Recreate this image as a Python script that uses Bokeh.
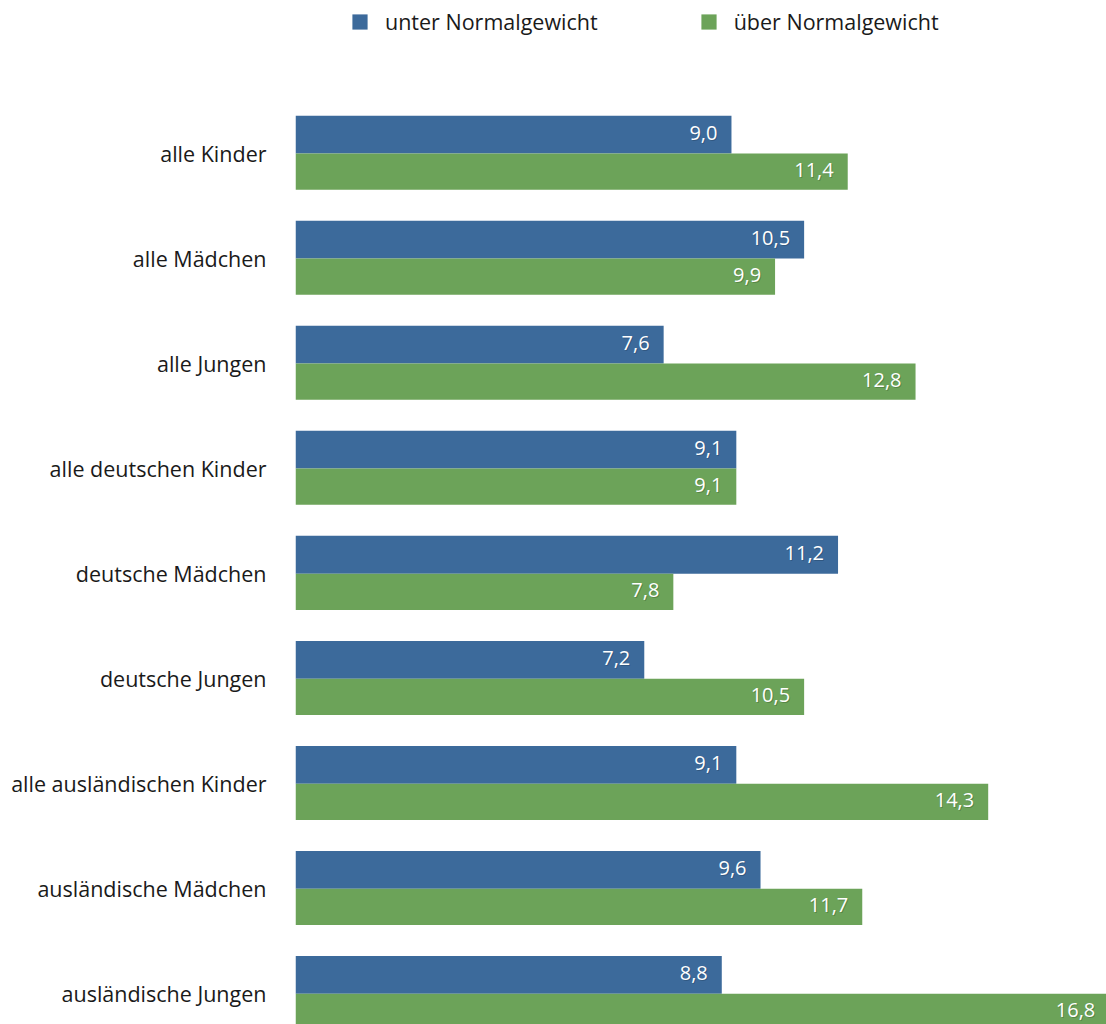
from bokeh.plotting import figure
from bokeh.models import ColumnDataSource, Range1d, FixedTicker, Legend, LegendItem
from bokeh.embed import file_html
from bokeh.resources import INLINE
from bokeh.core.properties import value

categories = ["alle Kinder", "alle Mädchen", "alle Jungen", "alle deutschen Kinder",
              "deutsche Mädchen", "deutsche Jungen", "alle ausländischen Kinder",
              "ausländische Mädchen", "ausländische Jungen"]
unter = [9.0, 10.5, 7.6, 9.1, 11.2, 7.2, 9.1, 9.6, 8.8]
ueber = [11.4, 9.9, 12.8, 9.1, 7.8, 10.5, 14.3, 11.7, 16.8]
series_names = ["unter Normalgewicht", "über Normalgewicht"]

BLUE = "#3c6a9b"
GREEN = "#6ca359"
FONT = "Open Sans"

idx = list(range(len(categories)))
src = ColumnDataSource(dict(
    y_blue=[i - 0.18 for i in idx],
    y_green=[i + 0.1725 for i in idx],
    unter=unter,
    ueber=ueber,
    unter_lbl=[f"{v:.1f}".replace(".", ",") for v in unter],
    ueber_lbl=[f"{v:.1f}".replace(".", ",") for v in ueber],
))

p = figure(width=1106, height=1024, output_backend="svg", toolbar_location=None,
           x_range=Range1d(0, 16.742), y_range=Range1d(8.292, -1.4566),
           min_border_left=295, min_border_right=0, min_border_top=0, min_border_bottom=0)
p.outline_line_color = None
p.xgrid.visible = False
p.ygrid.visible = False
p.xaxis.visible = False

r1 = p.hbar(y="y_blue", left=0, right="unter", height=0.36, source=src,
            fill_color=BLUE, line_color=None)
r2 = p.hbar(y="y_green", left=0, right="ueber", height=0.345, source=src,
            fill_color=GREEN, line_color=None)

for col, ycol, shadow in (("unter", "y_blue", "#1d3652"), ("ueber", "y_green", "#2f4f25")):
    p.text(x=col, y=ycol, text=col + "_lbl", source=src, x_offset=-13, y_offset=-1,
           text_align="right", text_baseline="middle", text_color=shadow, text_alpha=0.35,
           text_font=value(FONT), text_font_size="20px")
    p.text(x=col, y=ycol, text=col + "_lbl", source=src, x_offset=-14, y_offset=-2,
           text_align="right", text_baseline="middle", text_color="white",
           text_font=value(FONT), text_font_size="20px")

yax = p.yaxis[0]
yax.ticker = FixedTicker(ticks=idx)
yax.major_label_overrides = {i: c for i, c in zip(idx, categories)}
yax.axis_line_color = None
yax.major_tick_line_color = None
yax.minor_tick_line_color = None
yax.major_tick_out = 0
yax.major_tick_in = 0
yax.major_label_standoff = 29
yax.major_label_text_font = FONT
yax.major_label_text_font_size = "21.5px"
yax.major_label_text_color = "#1a1a1a"

legend = Legend(items=[LegendItem(label=series_names[0], renderers=[r1]),
                       LegendItem(label=series_names[1], renderers=[r2])],
                orientation="horizontal", location=(55, 988),
                glyph_width=19, glyph_height=19, label_standoff=16, spacing=101,
                padding=0, margin=0, border_line_color=None, background_fill_alpha=0,
                label_text_font=FONT, label_text_font_size="21.5px",
                label_text_color="#1a1a1a")
p.add_layout(legend)

open("out.html", "w").write(file_html(p, INLINE))
